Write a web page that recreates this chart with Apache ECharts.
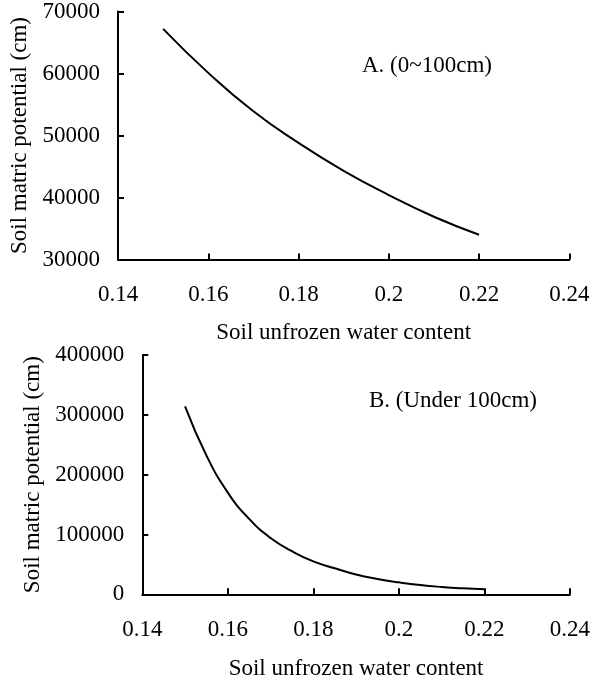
<!DOCTYPE html>
<html>
<head>
<meta charset="utf-8">
<script src="https://cdn.jsdelivr.net/npm/echarts@6/dist/echarts.min.js"></script>
<style>
  html, body { margin: 0; padding: 0; background: #fff; }
  #chart { width: 593px; height: 685px; }
</style>
</head>
<body>
<div id="chart"></div>
<script>
// values
var xTicks = [0.14, 0.16, 0.18, 0.2, 0.22, 0.24]
var waterA = [0.15, 0.16, 0.17, 0.18, 0.19, 0.2, 0.21, 0.22]
var potentialA = [67200, 60100, 53900, 48800, 44300, 40400, 36900, 34000]
var waterB = [0.15, 0.155, 0.16, 0.165, 0.17, 0.175, 0.18, 0.185, 0.19, 0.195, 0.2, 0.205, 0.21, 0.215, 0.22]
var potentialB = [314000, 232000, 170000, 126000, 94000, 72000, 55000, 43500, 33000, 25600, 20000, 15500, 12300, 10000, 8400]

var font = 'Liberation Serif, Times New Roman, serif'

function pairs(xs, ys) {
  return xs.map(function (x, i) { return [x, ys[i]] })
}

function xAxisFor(gridIndex, gap) {
  return {
    gridIndex: gridIndex,
    type: 'value',
    min: xTicks[0],
    max: xTicks[xTicks.length - 1],
    interval: 0.02,
    name: 'Soil unfrozen water content',
    nameLocation: 'middle',
    nameGap: gap,
    nameTextStyle: { color: '#000', fontFamily: font, fontSize: 23 },
    axisLine: { lineStyle: { color: '#000', width: 2 } },
    axisTick: { inside: true, length: 6, lineStyle: { color: '#000', width: 2 } },
    axisLabel: { color: '#000', fontFamily: font, fontSize: 23, margin: 24 },
    splitLine: { show: false }
  }
}

function yAxisFor(gridIndex, min, max, interval, gap) {
  return {
    gridIndex: gridIndex,
    type: 'value',
    min: min,
    max: max,
    interval: interval,
    name: 'Soil matric potential (cm)',
    nameLocation: 'middle',
    nameGap: gap,
    nameTextStyle: { color: '#000', fontFamily: font, fontSize: 23 },
    axisLine: { show: true, lineStyle: { color: '#000', width: 2 } },
    axisTick: { show: true, inside: true, length: 6, lineStyle: { color: '#000', width: 2 } },
    axisLabel: {
      color: '#000', fontFamily: font, fontSize: 23, margin: 18,
      formatter: function (v) { return String(v) }
    },
    splitLine: { show: false }
  }
}

var myChart = echarts.init(document.getElementById('chart'))
var option = {
  backgroundColor: '#fff',
  animation: false,
  grid: [
    { left: 118, top: 10.7, width: 451.3, height: 248.8 },
    { left: 142.3, top: 355, width: 431, height: 239.3 }
  ],
  xAxis: [xAxisFor(0, 62), xAxisFor(1, 63)],
  yAxis: [
    yAxisFor(0, 30000, 70000, 10000, 75.5),
    yAxisFor(1, 0, 400000, 100000, 93.5)
  ],
  graphic: [
    {
      type: 'text', x: 427, y: 66,
      style: { text: 'A. (0~100cm)', fill: '#000', font: '23px ' + font, align: 'center', verticalAlign: 'middle' }
    },
    {
      type: 'text', x: 453, y: 401,
      style: { text: 'B. (Under 100cm)', fill: '#000', font: '23px ' + font, align: 'center', verticalAlign: 'middle' }
    }
  ],
  series: [
    {
      type: 'line',
      xAxisIndex: 0,
      yAxisIndex: 0,
      data: pairs(waterA, potentialA),
      smooth: 0.5,
      showSymbol: false,
      lineStyle: { color: '#000', width: 2 }
    },
    {
      type: 'line',
      xAxisIndex: 1,
      yAxisIndex: 1,
      data: pairs(waterB, potentialB),
      smooth: 0.5,
      showSymbol: false,
      lineStyle: { color: '#000', width: 2 }
    }
  ]
}
myChart.setOption(option)
</script>
</body>
</html>
